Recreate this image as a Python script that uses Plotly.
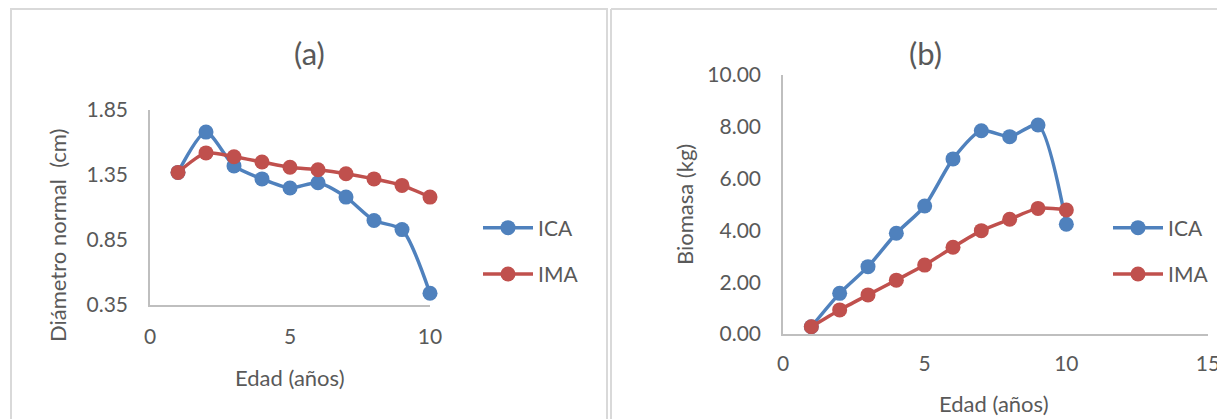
import plotly.graph_objects as go

# ---------------- data ----------------
edad = [1, 2, 3, 4, 5, 6, 7, 8, 9, 10]

diam_ica = [1.37, 1.68, 1.42, 1.32, 1.25, 1.29, 1.18, 1.00, 0.93, 0.44]
diam_ima = [1.37, 1.52, 1.49, 1.45, 1.41, 1.39, 1.36, 1.32, 1.27, 1.18]

bio_ica = [0.28, 1.57, 2.60, 3.89, 4.94, 6.76, 7.85, 7.62, 8.07, 4.24]
bio_ima = [0.28, 0.93, 1.51, 2.08, 2.66, 3.35, 3.99, 4.43, 4.85, 4.79]

series_names = ["ICA", "IMA"]
series_colors = ["#4F81BD", "#C0504D"]

a_yticks = [0.35, 0.85, 1.35, 1.85]
a_xticks = [0, 5, 10]
b_yticks = [0, 2, 4, 6, 8, 10]
b_xticks = [0, 5, 10, 15]

title_a = "(a)"
title_b = "(b)"
xlabel = "Edad (años)"
ylabel_a = "Diámetro normal  (cm)"
ylabel_b = "Biomasa (kg)"

# ---------------- layout helpers ----------------
# page body has an 8px default margin, so the figure is placed at (8, 8)
OFF = 8
W, H = 1225 - OFF, 419 - OFF
FONT = "Lato"
TXT = "#595959"
AX = "#BFBFBF"


def px(x):
    return (x - OFF) / W


def py(y):
    return 1 - (y - OFF) / H


fig = go.Figure()

for name, col, ya, yb in zip(series_names, series_colors, [diam_ica, diam_ima], [bio_ica, bio_ima]):
    fig.add_trace(go.Scatter(
        x=edad, y=ya, name=name, xaxis="x", yaxis="y",
        mode="lines+markers", line=dict(color=col, width=3.5, shape="spline", smoothing=0.7),
        marker=dict(color=col, size=15), cliponaxis=False,
        legend="legend", legendgroup=name + "a",
    ))
    fig.add_trace(go.Scatter(
        x=edad, y=yb, name=name, xaxis="x2", yaxis="y2",
        mode="lines+markers", line=dict(color=col, width=3.5, shape="spline", smoothing=0.7),
        marker=dict(color=col, size=15), cliponaxis=False,
        legend="legend2", legendgroup=name + "b",
    ))

axis_common = dict(showgrid=False, zeroline=False, showline=True, linecolor=AX, linewidth=1.5,
                   ticks="", tickfont=dict(family=FONT, size=21, color=TXT), fixedrange=True,
                   automargin=False)

fig.update_layout(
    template="none",
    width=W, height=H, margin=dict(l=0, r=0, t=0, b=0, pad=0, autoexpand=False),
    paper_bgcolor="white", plot_bgcolor="white",
    font=dict(family=FONT, color=TXT),
    hovermode=False,
    xaxis=dict(domain=[px(150), px(430)], range=[0, 10], tickvals=a_xticks,
               anchor="y", ticklabelstandoff=12, **axis_common),
    yaxis=dict(domain=[py(305), py(110)], range=[0.35, 1.85], tickvals=a_yticks,
               tickformat=".2f", anchor="x", ticklabelstandoff=16, **axis_common),
    xaxis2=dict(domain=[px(783), px(1208)], range=[0, 15], tickvals=b_xticks,
                anchor="y2", ticklabelstandoff=10, **axis_common),
    yaxis2=dict(domain=[py(334), py(75)], range=[0, 10], tickvals=b_yticks,
                tickformat=".2f", anchor="x2", ticklabelstandoff=16, **axis_common),
    legend=dict(x=px(478), xanchor="left", y=py(251), yanchor="middle",
                font=dict(family=FONT, size=21, color=TXT), traceorder="grouped",
                tracegroupgap=16, itemwidth=50, bgcolor="rgba(0,0,0,0)"),
    legend2=dict(x=px(1108), xanchor="left", y=py(251), yanchor="middle",
                 font=dict(family=FONT, size=21, color=TXT), traceorder="grouped",
                 tracegroupgap=16, itemwidth=50, bgcolor="rgba(0,0,0,0)"),
)

annots = [
    dict(text=title_a, x=px(309), y=py(53), size=31, angle=0),
    dict(text=title_b, x=px(925), y=py(53), size=31, angle=0),
    dict(text=xlabel, x=px(290), y=py(377), size=22, angle=0),
    dict(text=xlabel, x=px(994), y=py(403), size=22, angle=0),
    dict(text=ylabel_a, x=px(57), y=py(236), size=22, angle=-90),
    dict(text=ylabel_b, x=px(684), y=py(205), size=22, angle=-90),
]
for a in annots:
    fig.add_annotation(text=a["text"], x=a["x"], y=a["y"], xref="paper", yref="paper",
                       xanchor="center", yanchor="middle", showarrow=False, textangle=a["angle"],
                       font=dict(family=FONT, size=a["size"], color=TXT))

# panel borders
BORDER = "#D9D9D9"
for x0, y0, x1, y1 in [(10, 9, 608, 9), (11, 9, 11, 419), (607, 9, 607, 419),
                       (611, 9, 1225, 9), (611, 9, 611, 419)]:
    fig.add_shape(type="line", xref="paper", yref="paper", x0=px(x0), y0=py(y0), x1=px(x1), y1=py(y1),
                  line=dict(color=BORDER, width=2))

fig.write_html("out.html")
